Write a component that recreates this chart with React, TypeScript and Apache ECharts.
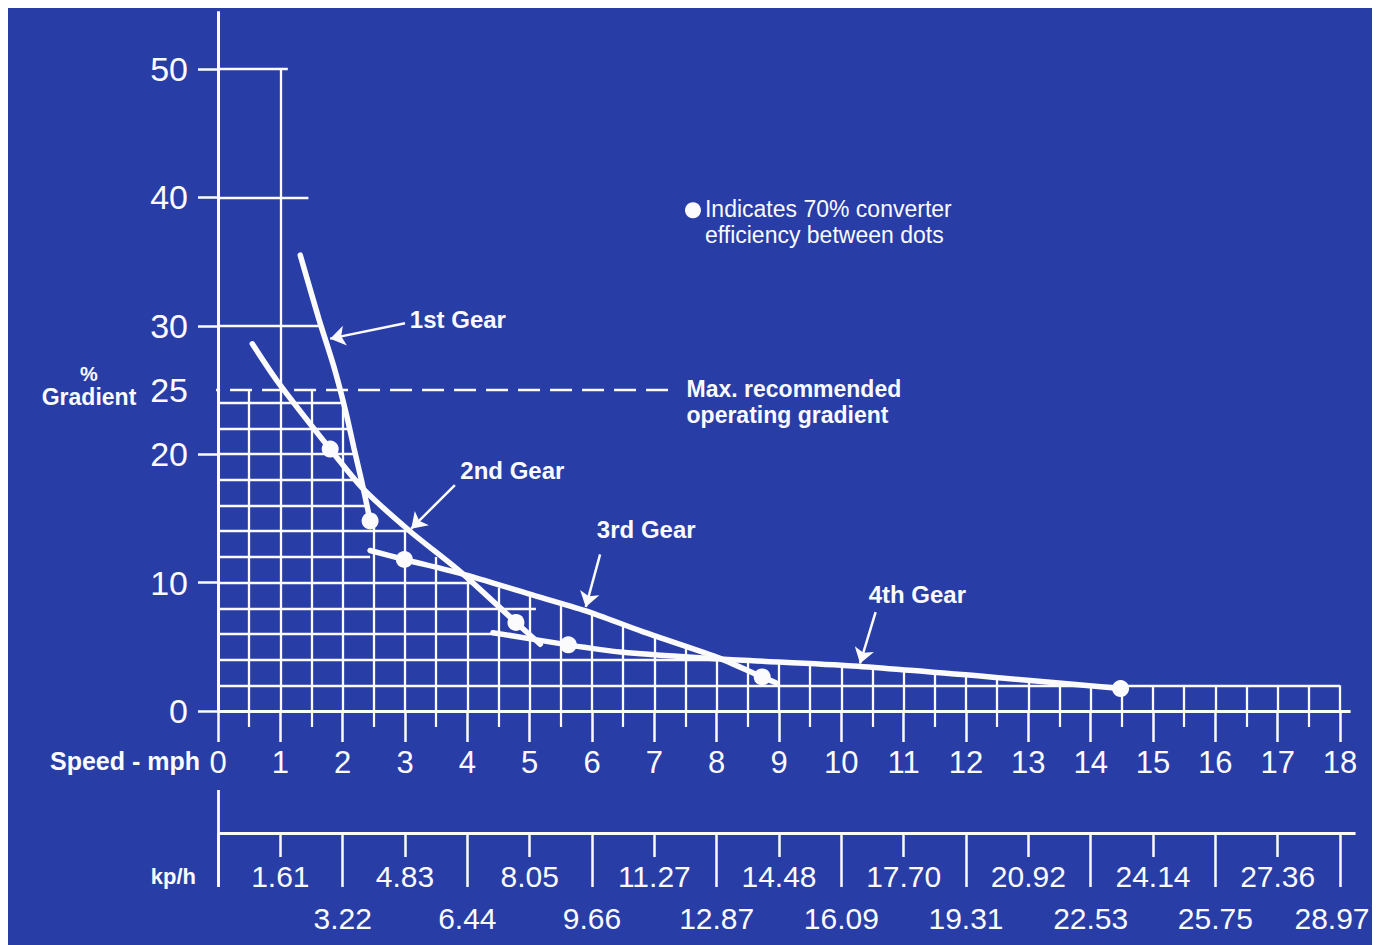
import React, { useEffect, useRef } from "react";
import * as echarts from "echarts";

// ---------- data ----------
const yLabelValues = [0, 10, 20, 25, 30, 40, 50];
const yTickValues = [0, 10, 20, 30, 40, 50];

// kp/h equivalents printed under 1..18 mph
const kphLabels = [
  "1.61", "3.22", "4.83", "6.44", "8.05", "9.66", "11.27", "12.87", "14.48",
  "16.09", "17.70", "19.31", "20.92", "22.53", "24.14", "25.75", "27.36", "28.97",
];

// gear curves: [mph, % gradient]
const gear1 = [[1.32, 35.5], [1.62, 30.5], [1.86, 26.8], [2.05, 23.3], [2.18, 20.5], [2.3, 18.0], [2.39, 16.0], [2.44, 14.8]];
const gear2 = [[0.55, 28.6], [0.95, 25.7], [1.8, 20.4], [2.33, 17.3], [3.08, 14.0], [3.9, 10.8], [4.78, 6.9], [5.17, 5.2]];
const gear3 = [[2.44, 12.5], [2.99, 11.8], [3.9, 10.7], [5.0, 9.1], [5.9, 7.8], [6.8, 6.2], [8.0, 4.2], [8.73, 2.65], [8.95, 2.2]];
const gear4 = [[4.41, 6.1], [5.62, 5.15], [6.45, 4.6], [8.06, 4.05], [10.19, 3.5], [12.39, 2.65], [14.48, 1.75]];

// 70% converter efficiency dots
const efficiencyDots = [[2.44, 14.8], [1.8, 20.4], [4.78, 6.9], [2.99, 11.8], [8.73, 2.65], [5.62, 5.15], [14.48, 1.75]];

// grid: vertical lines every 0.5 mph and the gradient where each stops
const gridColumns = [
  0, 0.5, 1, 1.5, 2, 2.5, 3, 3.5, 4, 4.5, 5, 5.5, 6, 6.5, 7, 7.5, 8, 8.5, 9,
  9.5, 10, 10.5, 11, 11.5, 12, 12.5, 13, 13.5, 14, 14.5, 15, 15.5, 16, 16.5, 17, 17.5, 18,
];
const gridColumnTops = [
  54.5, 25, 50, 25, 24.3, 14.6, 14.0, 12.0, 10.4, 9.6, 8.9, 8.3, 7.6, 6.7, 5.9, 5.0, 4.1, 3.8, 3.65,
  3.5, 3.4, 3.25, 3.15, 2.95, 2.75, 2.55, 2.35, 2.15, 1.95, 1.75, 2, 2, 2, 2, 2, 2, 2,
];
// horizontal lines and the speed where each stops
const gridRows = [0, 2, 4, 6, 8, 10, 12, 14, 16, 18, 20, 22, 24, 30, 40, 50];
const gridRowEnds = [18.17, 18, 8.0, 4.42, 5.1, 4.05, 2.44, 3.08, 2.4, 2.3, 2.23, 2.1, 2.0, 1.65, 1.45, 1.12];

const maxGradient = 25;
const maxGradientSpan = [-0.32, 7.34];
const kphAxisEnd = 18.25;

// annotations (label anchor, arrow from, arrow to)
const gearNotes = [
  { text: "1st Gear", at: [3.07, 30.5], from: [3.0, 30.2], to: [1.8, 29.0] },
  { text: "2nd Gear", at: [3.88, 18.75], from: [3.8, 17.6], to: [3.1, 14.2] },
  { text: "3rd Gear", at: [6.07, 14.1], from: [6.13, 12.2], to: [5.9, 8.1] },
  { text: "4th Gear", at: [10.43, 9.1], from: [10.55, 7.7], to: [10.3, 3.7] },
];
const legendAt = [7.62, 39.0];

// ---------- styles ----------
const WHITE = "#fbfbfd";
const BLUE = "#293da7";
const CLEAR = "rgba(0,0,0,0)";
const FONT = "'Liberation Sans', Arial, Helvetica, sans-serif";

function buildOption() {
  const gridLineData = [
    ...gridColumns.slice(1).map((x, i) => ({ coords: [[x, 0], [x, gridColumnTops[i + 1]]] })),
    ...gridRows.slice(1).map((y, i) => ({ coords: [[0, y], [gridRowEnds[i + 1], y]] })),
  ];
  const axisLineData = [
    { coords: [[0, 0], [0, gridColumnTops[0]]] },
    { coords: [[0, 0], [gridRowEnds[0], 0]] },
  ];
  const gearLine = (name: string, data: number[][]) => ({
    name,
    type: "line",
    data,
    smooth: 0.25,
    symbol: "none",
    clip: false,
    z: 5,
    lineStyle: { color: WHITE, width: 5.5, cap: "round" },
    silent: true,
  });

  const lastKph = kphLabels.length - 1;

  return {
    animation: false,
    backgroundColor: "transparent",
    textStyle: { fontFamily: FONT },
    grid: [
      { left: 210, top: 61, width: 1122, height: 642 },
      { left: 210, top: 825, width: 1122, height: 100 },
    ],
    xAxis: [
      {
        type: "value", gridIndex: 0, min: 0, max: 18, interval: 1,
        axisLine: { show: false },
        axisTick: { show: true, length: 31, lineStyle: { color: WHITE, width: 2.5 } },
        minorTick: { show: true, splitNumber: 2, length: 16, lineStyle: { color: WHITE, width: 2.2 } },
        axisLabel: { color: WHITE, fontSize: 31, fontFamily: FONT, margin: 36 },
        splitLine: { show: false },
        minorSplitLine: { show: false },
      },
      {
        type: "value", gridIndex: 1, min: 0, max: 18, interval: 2, position: "top",
        axisLine: { show: false },
        axisTick: { show: true, inside: true, length: 54, lineStyle: { color: WHITE, width: 2.5 } },
        minorTick: { show: true, splitNumber: 2, length: 24, lineStyle: { color: WHITE, width: 2.5 } },
        axisLabel: { show: false },
        splitLine: { show: false },
        minorSplitLine: { show: false },
      },
    ],
    yAxis: [
      {
        type: "value", gridIndex: 0, min: 0, max: 50,
        axisLine: { show: false },
        axisTick: { show: true, customValues: yTickValues, length: 20, lineStyle: { color: WHITE, width: 2.5 } },
        axisLabel: { customValues: yLabelValues, color: WHITE, fontSize: 34, fontFamily: FONT, margin: 30 },
        splitLine: { show: false },
      },
      { type: "value", gridIndex: 1, min: -100, max: 0, show: false },
    ],
    graphic: [
      {
        type: "text", x: 81, y: 366,
        style: { text: "%", fill: WHITE, font: `bold 20px ${FONT}`, align: "center", verticalAlign: "middle", textAlign: "center", textVerticalAlign: "middle" },
      },
      {
        type: "text", x: 81, y: 389,
        style: { text: "Gradient", fill: WHITE, font: `bold 23px ${FONT}`, align: "center", verticalAlign: "middle", textAlign: "center", textVerticalAlign: "middle" },
      },
      {
        type: "text", x: 192, y: 753,
        style: { text: "Speed - mph", fill: WHITE, font: `bold 25px ${FONT}`, align: "right", verticalAlign: "middle", textAlign: "right", textVerticalAlign: "middle" },
      },
      {
        type: "text", x: 188, y: 868,
        style: { text: "kp/h", fill: WHITE, font: `bold 22px ${FONT}`, align: "right", verticalAlign: "middle", textAlign: "right", textVerticalAlign: "middle" },
      },
    ],
    series: [
      {
        name: "grid", type: "lines", coordinateSystem: "cartesian2d", xAxisIndex: 0, yAxisIndex: 0,
        clip: false, silent: true, z: 2,
        lineStyle: { color: WHITE, width: 2.3, opacity: 1 },
        data: gridLineData,
      },
      {
        name: "axes", type: "lines", coordinateSystem: "cartesian2d", xAxisIndex: 0, yAxisIndex: 0,
        clip: false, silent: true, z: 3,
        lineStyle: { color: WHITE, width: 3, opacity: 1 },
        data: axisLineData,
      },
      {
        name: "max", type: "line", clip: false, silent: true, symbol: "none", z: 3,
        data: [[maxGradientSpan[0], maxGradient], [maxGradientSpan[1], maxGradient]],
        lineStyle: { color: WHITE, width: 2.5, type: [22, 10] },
        endLabel: {
          show: true, formatter: "Max. recommended\noperating gradient",
          color: WHITE, fontSize: 23, fontWeight: "bold", fontFamily: FONT,
          lineHeight: 26, distance: 11, offset: [0, 12], align: "left",
        },
      },
      gearLine("1st Gear", gear1),
      gearLine("2nd Gear", gear2),
      gearLine("3rd Gear", gear3),
      gearLine("4th Gear", gear4),
      {
        name: "dots", type: "scatter", data: efficiencyDots, symbolSize: 17, z: 6,
        itemStyle: { color: WHITE, opacity: 1 }, silent: true, clip: false,
      },
      {
        name: "arrows", type: "lines", coordinateSystem: "cartesian2d", xAxisIndex: 0, yAxisIndex: 0,
        clip: false, silent: true, z: 6,
        symbol: ["none", "arrow"], symbolSize: 15,
        lineStyle: { color: WHITE, width: 2.5, opacity: 1 },
        data: gearNotes.map((n) => ({ coords: [n.from, n.to] })),
      },
      {
        name: "gear labels", type: "scatter", symbolSize: 1, z: 7, silent: true, clip: false,
        itemStyle: { color: CLEAR, opacity: 1 },
        data: gearNotes.map((n) => ({ name: n.text, value: n.at })),
        label: {
          show: true, position: "right", distance: 0, formatter: "{b}",
          color: WHITE, fontSize: 24, fontWeight: "bold", fontFamily: FONT,
        },
      },
      {
        name: "legend", type: "scatter", symbolSize: 16, z: 7, silent: true, clip: false,
        itemStyle: { color: WHITE, opacity: 1 },
        data: [{ name: "Indicates 70% converter\nefficiency between dots", value: legendAt }],
        label: {
          show: true, position: "right", distance: 4, offset: [0, 12], formatter: "{b}",
          color: WHITE, fontSize: 23, fontFamily: FONT, lineHeight: 26, align: "left",
        },
      },
      {
        name: "kph axis", type: "lines", coordinateSystem: "cartesian2d", xAxisIndex: 1, yAxisIndex: 1,
        clip: false, silent: true,
        lineStyle: { color: WHITE, width: 2.8, opacity: 1 },
        data: [
          { coords: [[0, 0], [kphAxisEnd, 0]] },
          { coords: [[0, 43], [0, -54]] },
        ],
      },
      {
        name: "kph labels", type: "scatter", xAxisIndex: 1, yAxisIndex: 1, symbolSize: 1, clip: false, silent: true,
        itemStyle: { color: CLEAR, opacity: 1 },
        data: kphLabels.map((t, i) => ({
          name: t,
          value: [i + 1, (i + 1) % 2 === 1 ? -43 : -85],
          label: i === lastKph ? { offset: [-8, 0] } : undefined,
        })),
        label: {
          show: true, position: "inside", formatter: "{b}",
          color: WHITE, fontSize: 30, fontFamily: FONT,
        },
      },
    ],
  };
}

export default function App() {
  const ref = useRef<HTMLDivElement>(null);
  useEffect(() => {
    if (!ref.current) return;
    const chart = echarts.init(ref.current, null, { renderer: "svg" });
    chart.setOption(buildOption() as any);
    return () => chart.dispose();
  }, []);
  return (
    <div
      ref={ref}
      style={{ position: "absolute", left: 8, top: 8, width: 1364, height: 937, background: BLUE }}
    />
  );
}
